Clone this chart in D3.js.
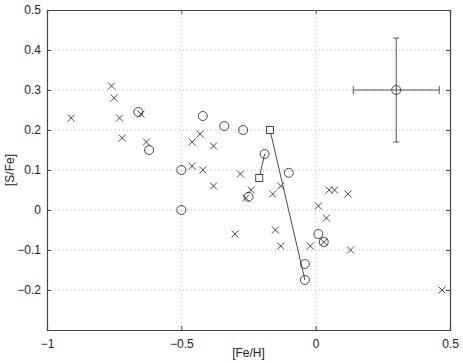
<!DOCTYPE html>
<html lang="en">
<head>
<meta charset="UTF-8">
<title>[S/Fe] vs [Fe/H]</title>
<script src="https://d3js.org/d3.v7.min.js"></script>
<style>
  body { margin: 0; background: #fff; }
  text { font-family: "Liberation Sans", Arial, sans-serif; font-size: 12px; fill: #222; }
</style>
</head>
<body>
<div id="chart"></div>
<script>
  // crosses
  const crossFe = [-0.91, -0.76, -0.75, -0.73, -0.72, -0.65, -0.63, -0.46, -0.43, -0.46, -0.42, -0.38, -0.38,
    -0.28, -0.30, -0.24, -0.26, -0.16, -0.13, -0.15, -0.13, -0.02, 0.01, 0.04, 0.05, 0.07, 0.12, 0.13, 0.03, 0.47];
  const crossS = [0.23, 0.31, 0.28, 0.23, 0.18, 0.24, 0.17, 0.17, 0.19, 0.11, 0.10, 0.16, 0.06,
    0.09, -0.06, 0.05, 0.03, 0.04, 0.06, -0.05, -0.09, -0.09, 0.01, -0.02, 0.05, 0.05, 0.04, -0.10, -0.08, -0.20];

  // circles
  const circFe = [-0.66, -0.62, -0.50, -0.50, -0.42, -0.34, -0.27, -0.19, -0.10, -0.25, 0.01, 0.03, -0.04, -0.04];
  const circS = [0.245, 0.15, 0.10, 0.00, 0.235, 0.21, 0.20, 0.14, 0.093, 0.033, -0.06, -0.08, -0.135, -0.175];

  // squares, each joined to a circle
  const sqFe = [-0.17, -0.21];
  const sqS = [0.20, 0.08];
  const linkFe = [-0.04, -0.19];
  const linkS = [-0.175, 0.14];

  // typical error bar
  const errFe = 0.30, errS = 0.30, errX = 0.16, errY = 0.13;

  const xTicks = [-1, -0.5, 0, 0.5];
  const yTicks = [-0.2, -0.1, 0, 0.1, 0.2, 0.3, 0.4, 0.5];

  const W = 463, H = 363;
  const margin = { top: 10, right: 13, bottom: 33, left: 47 };
  const width = W - margin.left - margin.right;
  const height = H - margin.top - margin.bottom;

  const svg = d3.select('#chart').append('svg')
    .attr('width', W).attr('height', H);
  const g = svg.append('g').attr('transform', `translate(${margin.left},${margin.top})`);

  const x = d3.scaleLinear().domain([-1, 0.5]).range([0, width]);
  const y = d3.scaleLinear().domain([-0.3, 0.5]).range([height, 0]);

  // grid
  const grid = g.append('g').attr('stroke', '#bbb').attr('stroke-dasharray', '1,3').attr('stroke-width', 1);
  xTicks.slice(1, -1).forEach(t => {
    grid.append('line').attr('x1', x(t)).attr('x2', x(t)).attr('y1', 0).attr('y2', height);
  });
  yTicks.slice(0, -1).forEach(t => {
    grid.append('line').attr('x1', 0).attr('x2', width).attr('y1', y(t)).attr('y2', y(t));
  });

  const fmt = d => d === 0 ? '0' : d3.format('')(d).replace('-', '\u2212');

  // axes (ticks pointing inward)
  const axColor = '#444';
  const xb = g.append('g').attr('transform', `translate(0,${height})`)
    .call(d3.axisBottom(x).tickValues(xTicks).tickSize(-4).tickPadding(9).tickFormat(fmt));
  const xt = g.append('g').call(d3.axisTop(x).tickValues(xTicks).tickSize(-4).tickFormat(''));
  const yl = g.append('g')
    .call(d3.axisLeft(y).tickValues(yTicks).tickSize(-4).tickPadding(6).tickFormat(fmt));
  const yr = g.append('g').attr('transform', `translate(${width},0)`)
    .call(d3.axisRight(y).tickValues(yTicks).tickSize(-4).tickFormat(''));
  [xb, xt, yl, yr].forEach(a => {
    a.select('.domain').attr('stroke', axColor).attr('stroke-width', 1.2);
    a.selectAll('.tick line').attr('stroke', axColor);
    a.selectAll('text').style('font-size', '12px').attr('fill', '#222');
  });

  const mark = '#333';

  // connecting lines
  sqFe.forEach((f, i) => {
    g.append('line')
      .attr('x1', x(f)).attr('y1', y(sqS[i]))
      .attr('x2', x(linkFe[i])).attr('y2', y(linkS[i]))
      .attr('stroke', mark).attr('stroke-width', 0.9);
  });

  // error bar
  const eb = g.append('g').attr('stroke', '#555').attr('stroke-width', 1);
  eb.append('line').attr('x1', x(errFe - errX)).attr('x2', x(errFe + errX)).attr('y1', y(errS)).attr('y2', y(errS));
  eb.append('line').attr('x1', x(errFe)).attr('x2', x(errFe)).attr('y1', y(errS - errY)).attr('y2', y(errS + errY));
  [errFe - errX, errFe + errX].forEach(v => {
    eb.append('line').attr('x1', x(v)).attr('x2', x(v)).attr('y1', y(errS) - 4).attr('y2', y(errS) + 4);
  });
  [errS - errY, errS + errY].forEach(v => {
    eb.append('line').attr('x1', x(errFe) - 3).attr('x2', x(errFe) + 3).attr('y1', y(v)).attr('y2', y(v));
  });
  g.append('circle').attr('cx', x(errFe)).attr('cy', y(errS)).attr('r', 4.5)
    .attr('fill', 'none').attr('stroke', mark).attr('stroke-width', 0.9);

  // crosses
  const cs = 3.5;
  g.selectAll('path.cross').data(crossFe).enter().append('path')
    .attr('class', 'cross')
    .attr('d', (d, i) => {
      const cx = x(d), cy = y(crossS[i]);
      return `M${cx - cs},${cy - cs}L${cx + cs},${cy + cs}M${cx - cs},${cy + cs}L${cx + cs},${cy - cs}`;
    })
    .attr('stroke', mark).attr('stroke-width', 0.9).attr('fill', 'none');

  // circles
  g.selectAll('circle.pt').data(circFe).enter().append('circle')
    .attr('class', 'pt')
    .attr('cx', d => x(d)).attr('cy', (d, i) => y(circS[i])).attr('r', 4.5)
    .attr('fill', 'none').attr('stroke', mark).attr('stroke-width', 0.9);

  // squares
  g.selectAll('rect.sq').data(sqFe).enter().append('rect')
    .attr('class', 'sq')
    .attr('x', d => x(d) - 3.5).attr('y', (d, i) => y(sqS[i]) - 3.5)
    .attr('width', 7).attr('height', 7)
    .attr('fill', '#fff').attr('stroke', mark).attr('stroke-width', 0.9);

  // axis labels
  svg.append('text').attr('x', margin.left + x(-0.25)).attr('y', H - 6)
    .attr('text-anchor', 'middle').text('[Fe/H]');
  svg.append('text')
    .attr('transform', `translate(14,${margin.top + height / 2}) rotate(-90)`)
    .attr('text-anchor', 'middle').text('[S/Fe]');
</script>
</body>
</html>
